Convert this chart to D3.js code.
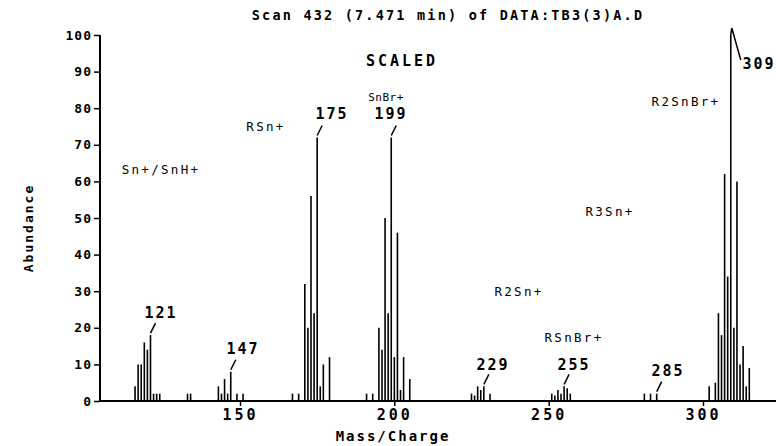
<!DOCTYPE html>
<html><head><meta charset="utf-8">
<script src="https://cdn.jsdelivr.net/npm/d3@7"></script>
<style>
html,body{margin:0;padding:0;background:#fff;}
svg text{font-family:"DejaVu Sans Mono",monospace;fill:#000;font-weight:bold;}
</style></head>
<body><svg id="c" width="776" height="446"></svg>
<script>
// ---- data ----
const masses = [116,117,118,119,120,121,122,123,124,133,134,
  143,144,145,146,147,149,151,
  167,169,171,172,173,174,175,176,177,179,
  191,193,195,196,197,198,199,200,201,202,203,205,
  225,226,227,228,229,231,
  251,252,253,254,255,256,257,
  281,283,285,
  302,304,305,306,307,308,309,310,311,312,313,314,315];
const abundance = [4,10,10,16,14,18,2,2,2,2,2,
  4,2,6,2,8,2,2,
  2,2,32,20,56,24,72,4,10,12,
  2,2,20,14,50,24,72,12,46,3,12,6,
  2,1.5,4,3,4,2,
  2,1.5,3,2,4,3.5,2,
  2,2,2,
  4,5,24,18,62,34,100,20,60,10,15,4,9];
const yTicks = [0,10,20,30,40,50,60,70,80,90,100];
const xTicks = [150,200,250,300];
const peakLabels = [121,147,175,199,229,255,285,309];
const ionLabels = ["Sn+/SnH+","RSn+","SnBr+","R2SnBr+","R3Sn+","R2Sn+","RSnBr+"];
const titleText = "Scan 432 (7.471 min) of DATA:TB3(3)A.D";

// ---- layout ----
const svg = d3.select("#c");
const x = d3.scaleLinear().domain([150,300]).range([240,703]);
const y = d3.scaleLinear().domain([0,100]).range([401,35]);
const xLeft = 100, xRight = 776;

// bars
svg.append("g").selectAll("line").data(masses).join("line")
  .attr("x1", d=>x(d)).attr("x2", d=>x(d))
  .attr("y1", y(0)).attr("y2", (d,i)=>y(abundance[i]))
  .attr("stroke","#000").attr("stroke-width",1.6);

// y axis
const yAx = svg.append("g").attr("transform",`translate(${xLeft},0)`);
yAx.call(d3.axisLeft(y).tickValues(d3.range(0,101,2)).tickSize(3).tickFormat(""));
yAx.call(d3.axisLeft(y).tickValues(yTicks).tickSize(6).tickFormat(d3.format("d")));
yAx.selectAll("line").attr("stroke-width",1.5);
yAx.selectAll("text").attr("font-size",13).style("letter-spacing","1px").attr("x",-8);
yAx.selectAll(".domain").remove();
svg.append("line").attr("x1",xLeft).attr("x2",xLeft).attr("y1",y(0)).attr("y2",y(100))
  .attr("stroke","#000").attr("stroke-width",2);

// x axis
const xAx = svg.append("g").attr("transform",`translate(0,${y(0)})`);
xAx.call(d3.axisBottom(x).tickValues(d3.range(110,330,10)).tickSize(3).tickFormat(""));
xAx.call(d3.axisBottom(x).tickValues(xTicks).tickSize(5).tickFormat(d3.format("d")));
xAx.selectAll(".domain").remove();
xAx.selectAll("line").attr("stroke-width",1.5);
xAx.selectAll("text").attr("font-size",15).style("letter-spacing","3px").attr("dy","0.85em").attr("y",6);
svg.append("line").attr("x1",xLeft).attr("x2",xRight).attr("y1",y(0)).attr("y2",y(0))
  .attr("stroke","#000").attr("stroke-width",2);

// axis titles
svg.append("text").attr("x",393).attr("y",441).attr("text-anchor","middle")
  .attr("font-size",14).style("letter-spacing","2px").text("Mass/Charge");
svg.append("text").attr("transform","translate(33,228) rotate(-90)").attr("text-anchor","middle")
  .attr("font-size",13).style("letter-spacing","2px").text("Abundance");
svg.append("text").attr("x",448).attr("y",20).attr("text-anchor","middle")
  .attr("font-size",13.5).style("letter-spacing","2.2px").text(titleText);
svg.append("text").attr("x",402).attr("y",66).attr("text-anchor","middle")
  .attr("font-size",15).style("letter-spacing","3px").text("SCALED");

// peak labels with leaders
const plPos = {121:[161,318],147:[243,354],175:[332,119],199:[391,119],229:[493,370],255:[574,370],285:[668,376],309:[759,69]};
peakLabels.forEach(m=>{
  const idx = masses.indexOf(m);
  const top = y(abundance[idx]);
  const [lx,ly] = plPos[m];
  svg.append("text").attr("x",lx).attr("y",ly).attr("text-anchor","middle")
    .attr("font-size",15).style("letter-spacing","2px").text(String(m));
  if (m===309){
    svg.append("polyline").attr("points",`${x(m)},${top} ${x(m)+1},${top-7} ${x(m)+10},${top+25}`)
      .attr("fill","none").attr("stroke","#000").attr("stroke-width",1.5);
  } else {
    svg.append("line").attr("x1",x(m)).attr("y1",top-2).attr("x2",x(m)+5).attr("y2",top-12)
      .attr("stroke","#000").attr("stroke-width",1.5);
  }
});

// ion annotations
const ionPos = [[161,174],[266,131],[386,101],[686,106],[610,216],[519,296],[574,342]];
ionLabels.forEach((t,i)=>{
  svg.append("text").attr("x",ionPos[i][0]).attr("y",ionPos[i][1]).attr("text-anchor","middle")
    .attr("font-size",i===2?11:12.5).style("letter-spacing",i===2?"0.5px":"2.3px").style("font-weight","normal").text(t);
});
</script></body></html>
